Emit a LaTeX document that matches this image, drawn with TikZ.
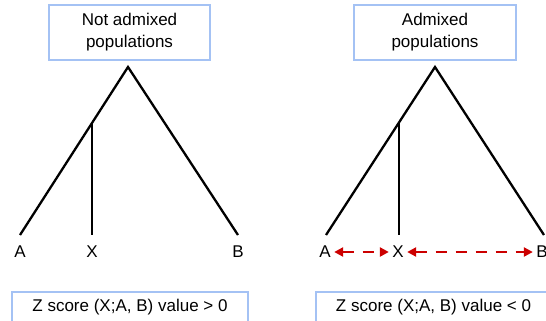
\documentclass[tikz,border=0pt]{standalone}
\usepackage{fontspec}
\setmainfont{Liberation Sans}
\usetikzlibrary{arrows.meta}
\definecolor{boxblue}{RGB}{164,194,244}
\definecolor{arrowred}{RGB}{204,0,0}
\begin{document}
\begin{tikzpicture}[x=1pt,y=-1pt,
  labelbox/.style={draw=boxblue, line width=1.8pt, fill=white, align=center,
    font=\fontsize{17}{22}\selectfont, inner sep=0pt},
  branch/.style={line width=2.3pt, line join=miter},
  leaflabel/.style={font=\fontsize{17}{20}\selectfont, inner sep=3.5pt, outer sep=0pt},
  admix/.style={arrowred, line width=2.3pt, dash pattern=on 11pt off 9pt,
    {Triangle[length=9pt,width=9pt]}-{Triangle[length=9pt,width=9pt]}}]
\useasboundingbox (0,0) rectangle (546,321);
\clip (0,0) rectangle (546,321);

% ---------- left tree: no admixture ----------
\node[labelbox, minimum width=161pt, minimum height=55pt] (topL) at (129.5,32.5)
  {Not admixed\\populations};
\coordinate (rootL) at (128,67);
\coordinate (innerL) at (92,123);
\coordinate (aL) at (20,235);
\coordinate (xL) at (92,235);
\coordinate (bL) at (238,235);
\draw[branch] (aL) -- (rootL) -- (bL);
\draw[branch] (innerL) -- (xL);
\node[leaflabel] (labAL) at (20,252) {A};
\node[leaflabel] (labXL) at (92,252) {X};
\node[leaflabel] (labBL) at (238,252) {B};
\node[labelbox, minimum width=236pt, minimum height=30pt] (zL) at (130,307)
  {Z score (X;A, B) value > 0};

% ---------- right tree: admixed ----------
\node[labelbox, minimum width=162pt, minimum height=55pt] (topR) at (435,32.5)
  {Admixed\\populations};
\coordinate (rootR) at (435,67);
\coordinate (innerR) at (399,122);
\coordinate (aR) at (326,235);
\coordinate (xR) at (399,235);
\coordinate (bR) at (544,235);
\draw[branch] (aR) -- (rootR) -- (bR);
\draw[branch] (innerR) -- (xR);
\node[leaflabel] (labAR) at (325,252) {A};
\node[leaflabel] (labXR) at (398,252) {X};
\node[leaflabel] (labBR) at (542,252) {B};
\draw[admix] (labAR.east) -- (labXR.west);
\draw[admix] (labXR.east) -- (labBR.west);
\node[labelbox, minimum width=235pt, minimum height=30pt] (zR) at (433.5,307)
  {Z score (X;A, B) value < 0};
\end{tikzpicture}
\end{document}
